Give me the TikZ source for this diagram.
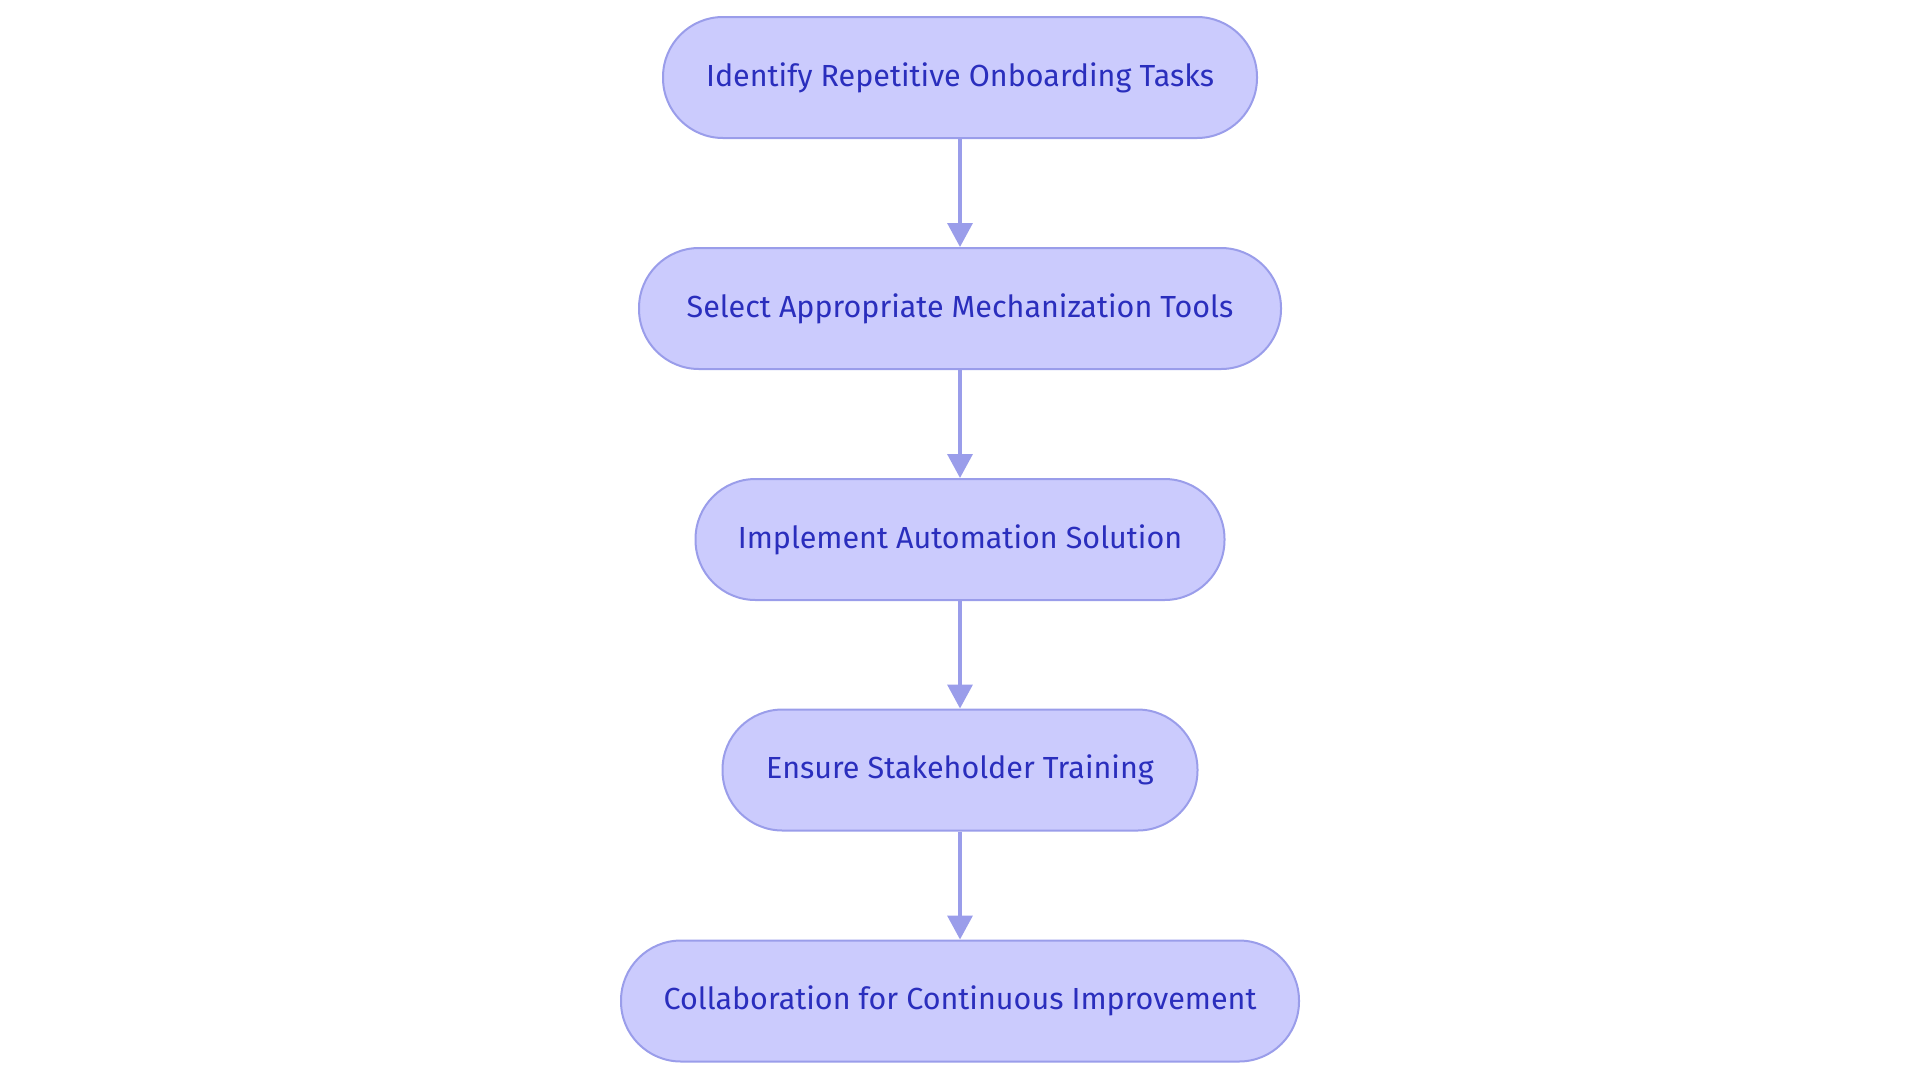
\documentclass[tikz,border=0pt]{standalone}
\usepackage{fontspec}
\setmainfont{Fira Sans}
\usetikzlibrary{arrows.meta}
\definecolor{boxfill}{HTML}{CBCBFD}
\definecolor{boxline}{HTML}{9A9DEA}
\definecolor{boxtext}{HTML}{2A2EBD}
\tikzset{
  stepbox/.style={draw=boxline, line width=2pt, fill=boxfill, rounded corners=60pt,
    minimum height=121pt, inner sep=0pt, text=boxtext,
    font=\fontsize{30.5}{36}\selectfont},
  flowarrow/.style={draw=boxline, line width=3.5pt,
    -{Triangle[length=24pt,width=25pt]}}
}
\begin{document}
\begin{tikzpicture}[x=1pt,y=-1pt]
\useasboundingbox (0,0) rectangle (1920,1080);
\node[stepbox, minimum width=594pt] (n1) at (960,77.5) {Identify Repetitive Onboarding Tasks};
\node[stepbox, minimum width=642pt] (n2) at (960,308.5) {Select Appropriate Mechanization Tools};
\node[stepbox, minimum width=529pt] (n3) at (960,539.5) {Implement Automation Solution};
\node[stepbox, minimum width=475pt] (n4) at (960,770) {Ensure Stakeholder Training};
\node[stepbox, minimum width=678pt] (n5) at (960,1001) {Collaboration for Continuous Improvement};
\draw[flowarrow] (n1.south) -- (n2.north);
\draw[flowarrow] (n2.south) -- (n3.north);
\draw[flowarrow] (n3.south) -- (n4.north);
\draw[flowarrow] (n4.south) -- (n5.north);
\end{tikzpicture}
\end{document}
